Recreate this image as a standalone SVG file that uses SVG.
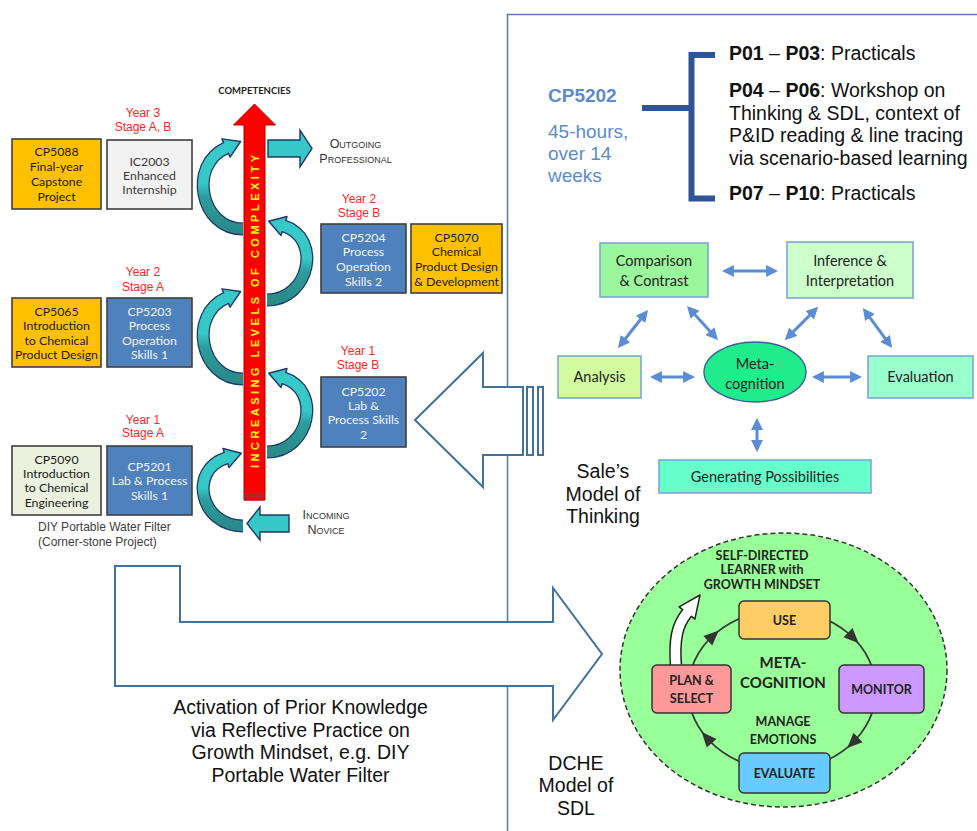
<svg xmlns="http://www.w3.org/2000/svg" width="977" height="831" viewBox="0 0 977 831">
<style>
.box{stroke:#3F3F3F;stroke-width:1.6}
.gold{fill:#FFC000}
.blue{fill:#4F81BD}
.cal{font-family:Lato,"Open Sans","Liberation Sans",sans-serif;font-size:12.3px;text-anchor:middle}
.dk{fill:#1a1a1a}
.wt{fill:#F2F6FB}
.yr{font-family:"Liberation Sans",Arial,sans-serif;font-size:12px;fill:#FF2424;text-anchor:middle}
.ar{font-family:"Liberation Sans",Arial,sans-serif;font-size:19.5px;fill:#111}
.arc{font-family:"Liberation Sans",Arial,sans-serif;font-size:19.5px;fill:#111;text-anchor:middle}
.sc{font-family:"Liberation Sans",Arial,sans-serif;font-size:12.5px;font-variant:small-caps;fill:#333;text-anchor:middle}
.tb{stroke:#7EA6D9;stroke-width:1.6}
.tt{font-family:Lato,"Open Sans","Liberation Sans",sans-serif;font-size:14.5px;fill:#222;text-anchor:middle}
.dbl{stroke:#5A8DD6;stroke-width:3;fill:none;marker-start:url(#ah);marker-end:url(#ah)}
.sd{stroke:#333;stroke-width:1.5}
.sdt{font-family:Lato,"Open Sans","Liberation Sans",sans-serif;font-weight:bold;fill:#222;text-anchor:middle}
.big{fill:#fff;stroke:#41719C;stroke-width:2}
.bo{stroke:#1F3864;stroke-width:13;fill:none}
.bi{stroke:url(#tg);stroke-width:10.5;fill:none}
.hd{fill:#36C8C8;stroke:#1F3864;stroke-width:1.4;stroke-linejoin:round}
.cyc{fill:#333}
</style>
<defs>
<marker id="ah" viewBox="0 0 10 10" refX="7" refY="5" markerWidth="4" markerHeight="4" orient="auto-start-reverse">
<path d="M0,0 L10,5 L0,10 z" fill="#5A8DD6"/>
</marker>
<linearGradient id="tg" x1="0" y1="0" x2="0" y2="1">
<stop offset="0" stop-color="#38CACA"/>
<stop offset="0.45" stop-color="#36C6C6"/>
<stop offset="0.62" stop-color="#2C9C9C"/>
<stop offset="1" stop-color="#2A8A8A"/>
</linearGradient>
<g id="curveL1">
<path class="bo" d="M243,229 C200,229 188,165 226,148"/>
<polygon class="hd" points="240.6,141.5 230.1,157.1 221.9,138.9"/>
<path class="bi" d="M243,229 C200,229 188,165 226,148 L228.7,146.8"/>
</g>
<g id="curveR1">
<path class="bo" d="M267,300 C310,300 322,238 284,226"/>
<polygon class="hd" points="268.7,221.2 287,216.5 281,235.5"/>
<path class="bi" d="M267,300 C310,300 322,238 284,226 L281.3,225.1"/>
</g>
</defs>

<rect width="977" height="831" fill="#ffffff"/>

<!-- right panel frame -->
<path d="M977,14.5 H507.5 V831" fill="none" stroke="#5A7DB0" stroke-width="1.6"/>

<g id="connectors">
<use href="#curveL1"/>
<use href="#curveL1" transform="translate(0,150)"/>
<g>
<path class="bo" d="M243,526 C200,526 188,470 226,458"/>
<polygon class="hd" points="241.3,453.2 229,467.5 223,448.5"/>
<path class="bi" d="M243,526 C200,526 188,470 226,458 L228.9,457.1"/>
</g>
<use href="#curveR1"/>
<use href="#curveR1" transform="translate(0,152)"/>
<polygon points="268,140 300,140 300,130 312,148.5 300,167 300,157 268,157" fill="#36C8C8" stroke="#1F3864" stroke-width="1.4"/>
<polygon points="289,515 260,515 260,507 247,523.5 260,540 260,532 289,532" fill="#36C8C8" stroke="#1F3864" stroke-width="1.4"/>
<line class="dbl" x1="725.5" y1="271" x2="774.5" y2="271"/>
<line class="dbl" x1="645.8" y1="312.8" x2="620.2" y2="345.2"/>
<line class="dbl" x1="689.4" y1="308.6" x2="715.6" y2="337.4"/>
<line class="dbl" x1="815.6" y1="309.4" x2="787.4" y2="337.6"/>
<line class="dbl" x1="865" y1="310.8" x2="890" y2="345.2"/>
<line class="dbl" x1="653.5" y1="377" x2="691.5" y2="377"/>
<line class="dbl" x1="815.5" y1="377" x2="858.5" y2="377"/>
<line class="dbl" x1="757" y1="421.5" x2="757" y2="448.5"/>
<path class="big" d="M415,420 L483,353 L483,387 L523,387 L523,455 L483,455 L483,487 Z"/>
<rect class="big" x="527" y="387" width="6" height="68"/>
<rect class="big" x="538" y="387" width="5" height="68"/>
<path class="big" d="M115,566 L180,566 L180,622 L553,622 L553,588 L602,654 L553,720 L553,686 L115,686 Z"/>
</g>

<g id="complexity">
<polygon points="244,500 244,125 233.5,125 254.5,104 275.5,125 265,125 265,500" fill="#FF0000" stroke="#B00000" stroke-width="1"/>
<line x1="244" y1="494" x2="265" y2="494" stroke="#8B3A3A" stroke-width="1.2"/>
<line x1="244" y1="497" x2="265" y2="497" stroke="#8B3A3A" stroke-width="1.2"/>
<line x1="244" y1="500" x2="265" y2="500" stroke="#8B3A3A" stroke-width="1.2"/>
<text transform="translate(258.5,311.5) rotate(-90)" text-anchor="middle" font-family="'Liberation Sans',Arial,sans-serif" font-weight="bold" font-size="11" fill="#FFFF00" textLength="313" lengthAdjust="spacing">INCREASING LEVELS OF COMPLEXITY</text>
<text x="254.5" y="94" text-anchor="middle" font-family="Lato,'Liberation Sans',sans-serif" font-weight="bold" font-size="9.5" fill="#222">COMPETENCIES</text>
</g>

<g id="outgoing"><text class="sc" x="355.5" y="148">Outgoing</text><text class="sc" x="355.5" y="162.5">Professional</text></g>
<g id="incoming"><text class="sc" x="326" y="519">Incoming</text><text class="sc" x="326" y="533.5">Novice</text></g>

<g id="y3"><text class="yr" x="143" y="117">Year 3</text><text class="yr" x="143" y="131">Stage A, B</text></g>
<g id="y2b"><text class="yr" x="359" y="203">Year 2</text><text class="yr" x="359" y="217">Stage B</text></g>
<g id="y2a"><text class="yr" x="143" y="276">Year 2</text><text class="yr" x="143" y="291">Stage A</text></g>
<g id="y1b"><text class="yr" x="358" y="355">Year 1</text><text class="yr" x="358" y="369">Stage B</text></g>
<g id="y1a"><text class="yr" x="143" y="424">Year 1</text><text class="yr" x="143" y="437">Stage A</text></g>

<g id="cp5088"><rect class="box gold" x="12" y="139" width="89" height="70"/>
<text class="cal dk" x="56.5" y="156">CP5088</text><text class="cal dk" x="56.5" y="171">Final-year</text><text class="cal dk" x="56.5" y="186">Capstone</text><text class="cal dk" x="56.5" y="201">Project</text></g>
<g id="ic2003"><rect class="box" x="107" y="140" width="85" height="69" fill="#F2F2F2"/>
<text class="cal" fill="#3a3a3a" x="149.5" y="166">IC2003</text><text class="cal" fill="#3a3a3a" x="149.5" y="180">Enhanced</text><text class="cal" fill="#3a3a3a" x="149.5" y="194">Internship</text></g>
<g id="cp5204"><rect class="box blue" x="321" y="224" width="85" height="69"/>
<text class="cal wt" x="363.5" y="242">CP5204</text><text class="cal wt" x="363.5" y="256">Process</text><text class="cal wt" x="363.5" y="271">Operation</text><text class="cal wt" x="363.5" y="286">Skills 2</text></g>
<g id="cp5070"><rect class="box gold" x="411" y="224" width="91" height="69"/>
<text class="cal dk" x="456.5" y="242">CP5070</text><text class="cal dk" x="456.5" y="256">Chemical</text><text class="cal dk" x="456.5" y="271">Product Design</text><text class="cal dk" x="456.5" y="286">&amp; Development</text></g>
<g id="cp5065"><rect class="box gold" x="12" y="298" width="89" height="69"/>
<text class="cal dk" x="56.5" y="316">CP5065</text><text class="cal dk" x="56.5" y="330">Introduction</text><text class="cal dk" x="56.5" y="345">to Chemical</text><text class="cal dk" x="56.5" y="359">Product Design</text></g>
<g id="cp5203"><rect class="box blue" x="107" y="298" width="85" height="69"/>
<text class="cal wt" x="149.5" y="316">CP5203</text><text class="cal wt" x="149.5" y="330">Process</text><text class="cal wt" x="149.5" y="345">Operation</text><text class="cal wt" x="149.5" y="359">Skills 1</text></g>
<g id="cp5202"><rect class="box blue" x="321" y="377" width="85" height="70"/>
<text class="cal wt" x="363.5" y="396">CP5202</text><text class="cal wt" x="363.5" y="410">Lab &amp;</text><text class="cal wt" x="363.5" y="424">Process Skills</text><text class="cal wt" x="363.5" y="439">2</text></g>
<g id="cp5090"><rect class="box" x="12" y="446" width="89" height="69" fill="#EBF1DE"/>
<text class="cal dk" x="56.5" y="464">CP5090</text><text class="cal dk" x="56.5" y="478">Introduction</text><text class="cal dk" x="56.5" y="492">to Chemical</text><text class="cal dk" x="56.5" y="507">Engineering</text></g>
<g id="cp5201"><rect class="box blue" x="107" y="446" width="85" height="69"/>
<text class="cal wt" x="149.5" y="471">CP5201</text><text class="cal wt" x="149.5" y="485">Lab &amp; Process</text><text class="cal wt" x="149.5" y="500">Skills 1</text></g>
<g id="diy"><text font-family="'Liberation Sans',Arial,sans-serif" font-size="12" fill="#404040" x="38" y="531">DIY Portable Water Filter</text>
<text font-family="'Liberation Sans',Arial,sans-serif" font-size="12" fill="#404040" x="38" y="546">(Corner-stone Project)</text></g>

<g id="cp5202-info">
<text font-family="'Liberation Sans',Arial,sans-serif" font-size="19" font-weight="bold" fill="#5B8BC9" x="548" y="102">CP5202</text>
<text font-family="'Liberation Sans',Arial,sans-serif" font-size="19" fill="#5B8BC9" x="548" y="138">45-hours,</text>
<text font-family="'Liberation Sans',Arial,sans-serif" font-size="19" fill="#5B8BC9" x="548" y="160">over 14</text>
<text font-family="'Liberation Sans',Arial,sans-serif" font-size="19" fill="#5B8BC9" x="548" y="182">weeks</text>
</g>
<g id="bracket"><path d="M642,108 H691.5 M715,55 H691.5 V198.5 H715" fill="none" stroke="#2F5597" stroke-width="6"/></g>
<g id="sessions">
<text class="ar" x="729" y="60"><tspan font-weight="bold">P01</tspan> – <tspan font-weight="bold">P03</tspan>: Practicals</text>
<text class="ar" x="729" y="97"><tspan font-weight="bold">P04</tspan> – <tspan font-weight="bold">P06</tspan>: Workshop on</text>
<text class="ar" x="729" y="119.5">Thinking &amp; SDL, context of</text>
<text class="ar" x="729" y="142">P&amp;ID reading &amp; line tracing</text>
<text class="ar" x="729" y="164.5">via scenario-based learning</text>
<text class="ar" x="729" y="200"><tspan font-weight="bold">P07</tspan> – <tspan font-weight="bold">P10</tspan>: Practicals</text>
</g>

<g id="comparison"><rect class="tb" x="600" y="243" width="108" height="54" fill="#9BF79B"/>
<text class="tt" x="654" y="265.5">Comparison</text><text class="tt" x="654" y="285.5">&amp; Contrast</text></g>
<g id="inference"><rect class="tb" x="787" y="242" width="126" height="56" fill="#CCFFCC"/>
<text class="tt" x="850" y="265.5">Inference &amp;</text><text class="tt" x="850" y="285.5">Interpretation</text></g>
<g id="analysis"><rect class="tb" x="558" y="356" width="83" height="42" fill="#D2FA9E"/>
<text class="tt" x="599.5" y="382">Analysis</text></g>
<g id="metacog"><ellipse cx="755" cy="372" rx="51" ry="30" fill="#20EC8C" stroke="#3D5F9E" stroke-width="1.4"/>
<text class="tt" x="755" y="369">Meta-</text><text class="tt" x="755" y="389">cognition</text></g>
<g id="evaluation"><rect class="tb" x="868" y="356" width="105" height="42" fill="#99FFCC"/>
<text class="tt" x="920.5" y="382">Evaluation</text></g>
<g id="generating"><rect class="tb" x="659" y="460" width="212" height="33" fill="#66FFCC"/>
<text class="tt" x="765" y="481.5">Generating Possibilities</text></g>
<g id="sale-label"><text class="arc" x="603" y="478">Sale’s</text><text class="arc" x="603" y="501">Model of</text><text class="arc" x="603" y="523">Thinking</text></g>

<g id="activation">
<text class="arc" x="300.5" y="714">Activation of Prior Knowledge</text>
<text class="arc" x="300.5" y="736.5">via Reflective Practice on</text>
<text class="arc" x="300.5" y="759">Growth Mindset, e.g. DIY</text>
<text class="arc" x="300.5" y="781.5">Portable Water Filter</text>
</g>
<g id="dche-label"><text class="arc" x="576" y="770">DCHE</text><text class="arc" x="576" y="792">Model of</text><text class="arc" x="576" y="815">SDL</text></g>

<g id="sdl">
<ellipse cx="783.5" cy="670" rx="163.5" ry="137" fill="#99FF99" stroke="#333" stroke-width="1.5" stroke-dasharray="5,3"/>
<ellipse cx="782" cy="690" rx="94" ry="80" fill="none" stroke="#3a3a3a" stroke-width="1.8"/>
<polygon class="cyc" points="-7,-6.5 8,0 -7,6.5" transform="translate(713,636) rotate(-42.6)"/>
<polygon class="cyc" points="-7,-6.5 8,0 -7,6.5" transform="translate(853,637.6) rotate(44.4)"/>
<polygon class="cyc" points="-7,-6.5 8,0 -7,6.5" transform="translate(853,742.4) rotate(135.6)"/>
<polygon class="cyc" points="-7,-6.5 8,0 -7,6.5" transform="translate(707,738) rotate(228.6)"/>
<text class="sdt" font-size="12.5" x="762" y="559.5">SELF-DIRECTED</text>
<text class="sdt" font-size="12.5" x="762" y="574">LEARNER with</text>
<text class="sdt" font-size="12.5" x="762" y="588.5">GROWTH MINDSET</text>
<text class="sdt" font-size="15" x="783" y="667.5">META-</text>
<text class="sdt" font-size="15" x="783" y="687.5">COGNITION</text>
<text class="sdt" font-size="12.5" x="783" y="725.5">MANAGE</text>
<text class="sdt" font-size="12.5" x="783" y="743.5">EMOTIONS</text>
</g>
<g id="growth-arrow">
<path d="M676,665 C674,640 677,625 687,613" fill="none" stroke="#222" stroke-width="12.5"/>
<polygon points="700,595 694.9,619.1 679.1,606.9" fill="#fff" stroke="#222" stroke-width="1.5" stroke-linejoin="round"/>
<path d="M676,666 C674,640 677,625 687,613 L689,610.5" fill="none" stroke="#fff" stroke-width="9.5"/>
</g>
<g id="use"><rect class="sd" x="739" y="601" width="91" height="38" rx="5" fill="#FFCC66"/><text class="sdt" font-size="12.5" x="784.5" y="624.5">USE</text></g>
<g id="monitor"><rect class="sd" x="839" y="665" width="85" height="48" rx="5" fill="#CC99FF"/><text class="sdt" font-size="12.5" x="881.5" y="694">MONITOR</text></g>
<g id="evaluate"><rect class="sd" x="739" y="753" width="91" height="40" rx="5" fill="#66CCFF"/><text class="sdt" font-size="12.5" x="784.5" y="777.5">EVALUATE</text></g>
<g id="plan"><rect class="sd" x="652" y="665" width="79" height="48" rx="5" fill="#FF9999"/><text class="sdt" font-size="12.5" x="691.5" y="684.5">PLAN &amp;</text><text class="sdt" font-size="12.5" x="691.5" y="702.5">SELECT</text></g>
</svg>
